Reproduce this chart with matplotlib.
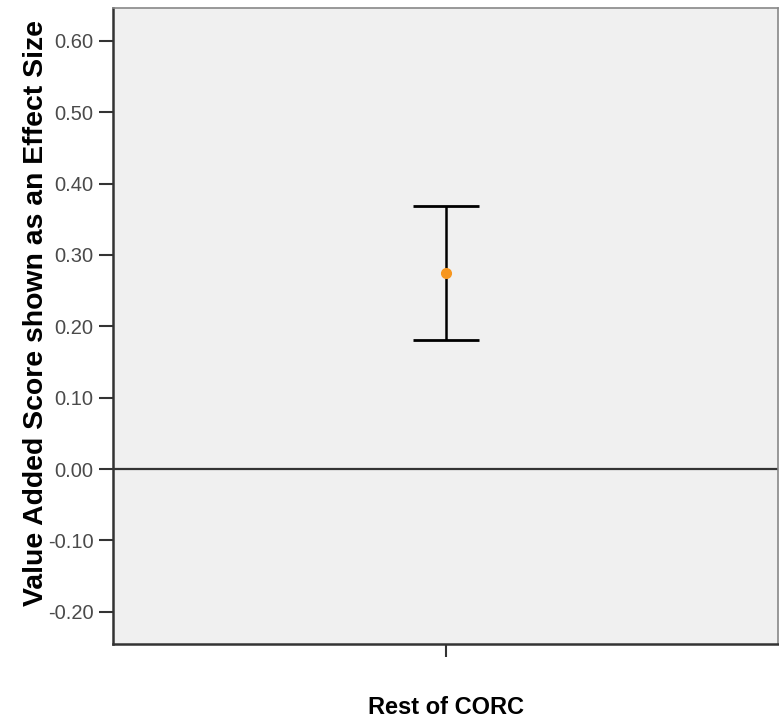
import matplotlib
matplotlib.use("Agg")
import matplotlib.pyplot as plt

# Datos
categorias = ["Rest of CORC"]
media = [0.275]
limite_inferior = [0.181]
limite_superior = [0.369]
ticks_y = [-0.20, -0.10, 0.00, 0.10, 0.20, 0.30, 0.40, 0.50, 0.60]

plt.rcParams['font.family'] = ['Liberation Sans', 'DejaVu Sans']

fig = plt.figure(figsize=(7.79, 7.2), dpi=100)
ax = fig.add_axes([113 / 779, 76 / 720, 665 / 779, 636 / 720])
ax.set_facecolor('#F0F0F0')

x = list(range(len(categorias)))
err_bajo = [m - l for m, l in zip(media, limite_inferior)]
err_alto = [u - m for m, u in zip(media, limite_superior)]
ax.errorbar(x, media, yerr=[err_bajo, err_alto], fmt='none', ecolor='black',
            elinewidth=1.8, capsize=24, capthick=2, zorder=3)
ax.plot(x, media, 'o', color='#F7961E', markersize=7, zorder=4)

ax.axhline(0, color='#333333', linewidth=1.6, zorder=2)

ax.set_xlim(-0.5, 0.5)
ax.set_ylim(-0.245, 0.646)
ax.set_xticks(x)
ax.set_xticklabels([])
ax.set_yticks(ticks_y)
ax.set_yticklabels([f"{v:.2f}" for v in ticks_y])

ax.tick_params(axis='y', length=10, width=1.5, color='#333333', labelsize=14.5,
               labelcolor='#4a4a4a', pad=4)
ax.tick_params(axis='x', length=9, width=1.5, color='#333333')

for lado in ['left', 'bottom']:
    ax.spines[lado].set_color('#333333')
    ax.spines[lado].set_linewidth(1.8)
for lado in ['top', 'right']:
    ax.spines[lado].set_color('#888888')
    ax.spines[lado].set_linewidth(1.2)

ax.set_ylabel('Value Added Score shown as an Effect Size', fontsize=20.4,
              fontweight='bold')
ax.yaxis.set_label_coords(-0.096, 0.52)
fig.text(446 / 779, 1 - 707 / 720, categorias[0], ha='center', va='center',
         fontsize=17, fontweight='bold')

plt.savefig('out.png', dpi=100)
